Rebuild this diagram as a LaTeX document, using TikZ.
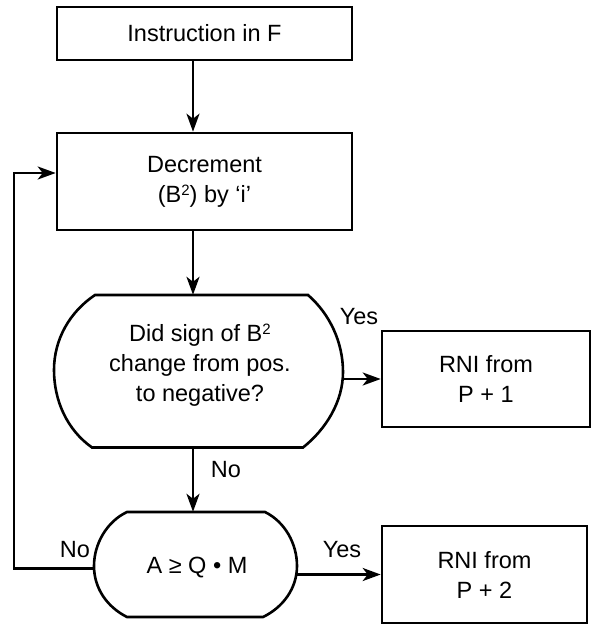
\documentclass[tikz,border=0pt]{standalone}
\usepackage{fontspec}
\setmainfont{Liberation Sans}
\usetikzlibrary{arrows.meta}
\begin{document}
\begin{tikzpicture}[x=1pt,y=-1pt,
  every node/.style={font=\fontsize{23.5}{30}\selectfont, inner sep=0pt},
  box/.style={draw, line width=2.6pt, align=center},
  frame/.style={draw=none, inner sep=0pt},
  txt/.style={align=center},
  outline/.style={draw, line width=2.6pt},
  flow/.style={line width=2.6pt, -{Stealth[length=18pt,width=13pt,inset=5pt]}}]
\useasboundingbox (0,0) rectangle (592,624);

% small raised figure for the register index
\newcommand{\regsup}[1]{\raisebox{0.55ex}{\fontsize{15}{15}\selectfont #1}}

% process boxes
\node[box, minimum width=295pt, minimum height=53pt] (b1) at (204.5,33.5) {Instruction in F};
\node[box, minimum width=295pt, minimum height=97pt] (b2) at (204.5,181.5) {Decrement\\(B\regsup{2}) by `i'};
\node[box, minimum width=208pt, minimum height=96pt] (r1) at (486,379) {RNI from\\P + 1};
\node[box, minimum width=205pt, minimum height=97pt] (r2) at (484.5,574.5) {RNI from\\P + 2};

% decision frames (outlines drawn below)
\node[frame, minimum width=289pt, minimum height=152pt] (d1) at (198.5,371) {};
\node[txt] (d1t) at (200,365) {Did sign of B\regsup{2}\\change from pos.\\to negative?};
\node[frame, minimum width=203pt, minimum height=105pt] (d2) at (195.5,564.5) {};
\node[txt] (d2t) at (197,568) {A ≥ Q • M};

% decision outlines: straight top and bottom, rounded sides
\draw[outline] (95,295) -- (308,295)
  .. controls (330.1,314.3) and (343,342.6) .. (343,372)
  .. controls (343,401.4) and (326.2,429) .. (303,447.5)
  -- (92,447.5)
  .. controls (66.9,429.7) and (54,400.5) .. (54,370)
  .. controls (54,339.5) and (69.6,312) .. (95,295) -- cycle;
\draw[outline] (127,512) -- (265,512)
  .. controls (285,521.9) and (297,543.7) .. (297,566)
  .. controls (297,588.3) and (283.1,607.3) .. (263,617)
  -- (127,617)
  .. controls (107.1,607) and (94,588.3) .. (94,566)
  .. controls (94,543.7) and (106.9,521.5) .. (127,512) -- cycle;

% connectors
\coordinate (spine) at (193,0);
\coordinate (loopx) at (14,0);
\coordinate (loopout) at ([yshift=-4pt]d2.west);
\coordinate (loopin) at ([yshift=8.5pt]b2.west);
\draw[flow] (b1.south -| spine) -- (b2.north -| spine);
\draw[flow] (b2.south -| spine) -- (d1.north -| spine);
\draw[flow] (d1.south -| spine) -- (d2.north -| spine);
\draw[flow] (r1.west -| d1.east) -- (r1.west);
\draw[flow] (r2.west -| d2.east) -- (r2.west);
\draw[flow] (loopout) -- (loopout -| loopx) |- (loopin);

% branch labels
\node (yes1) at (359,317) {Yes};
\node (no1) at (226,470) {No};
\node (no2) at (75,550) {No};
\node (yes2) at (342,550) {Yes};
\end{tikzpicture}
\end{document}
